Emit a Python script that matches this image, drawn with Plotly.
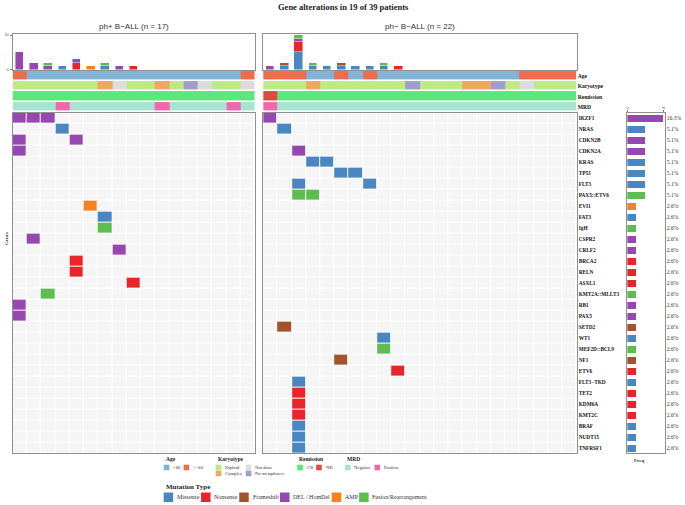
import plotly.graph_objects as go

W, H = 685, 505

# genes in display order (top to bottom)
genes = ["IKZF1", "NRAS", "CDKN2B", "CDKN2A", "KRAS", "TP53", "FLT3", "PAX5::ETV6",
         "EVI1", "FAT3", "IgH", "CSPR2", "CRLF2", "BRCA2", "RELN", "ASXL1",
         "KMT2A::MLLT3", "RB1", "PAX5", "SETD2", "WT1", "MEF2D::BCL9", "NF1", "ETV6",
         "FLT3\u2212TKD", "TET2", "KDM6A", "KMT2C", "BRAF", "NUDT15", "TNFRSF1"]
n_total = 39

mut_types = ["Missense", "Nonsense", "Frameshift", "DEL / HomDel", "AMP", "Fusion/Rearrangement"]
mut_colors = ["#4a86c0", "#e8262a", "#a3532c", "#9747b0", "#f5821f", "#5dbd4f"]

# (gene, patient column, mutation type)
ph_pos_muts = [
    ("IKZF1", 0, "DEL / HomDel"), ("IKZF1", 1, "DEL / HomDel"), ("IKZF1", 2, "DEL / HomDel"),
    ("NRAS", 3, "Missense"),
    ("CDKN2B", 0, "DEL / HomDel"), ("CDKN2B", 4, "DEL / HomDel"),
    ("CDKN2A", 0, "DEL / HomDel"),
    ("EVI1", 5, "AMP"),
    ("FAT3", 6, "Missense"),
    ("IgH", 6, "Fusion/Rearrangement"),
    ("CSPR2", 1, "DEL / HomDel"),
    ("CRLF2", 7, "DEL / HomDel"),
    ("BRCA2", 4, "Nonsense"),
    ("RELN", 4, "Nonsense"),
    ("ASXL1", 8, "Nonsense"),
    ("KMT2A::MLLT3", 2, "Fusion/Rearrangement"),
    ("RB1", 0, "DEL / HomDel"),
    ("PAX5", 0, "DEL / HomDel"),
]
ph_neg_muts = [
    ("IKZF1", 0, "DEL / HomDel"),
    ("NRAS", 1, "Missense"),
    ("CDKN2A", 2, "DEL / HomDel"),
    ("KRAS", 3, "Missense"), ("KRAS", 4, "Missense"),
    ("TP53", 5, "Missense"), ("TP53", 6, "Missense"),
    ("FLT3", 2, "Missense"), ("FLT3", 7, "Missense"),
    ("PAX5::ETV6", 2, "Fusion/Rearrangement"), ("PAX5::ETV6", 3, "Fusion/Rearrangement"),
    ("SETD2", 1, "Frameshift"),
    ("WT1", 8, "Missense"),
    ("MEF2D::BCL9", 8, "Fusion/Rearrangement"),
    ("NF1", 5, "Frameshift"),
    ("ETV6", 9, "Nonsense"),
    ("FLT3\u2212TKD", 2, "Missense"),
    ("TET2", 2, "Nonsense"), ("KDM6A", 2, "Nonsense"), ("KMT2C", 2, "Nonsense"),
    ("BRAF", 2, "Missense"), ("NUDT15", 2, "Missense"), ("TNFRSF1", 2, "Missense"),
]

# clinical annotation tracks
ph_pos_age = [">=60", "<60", "<60", "<60", "<60", "<60", "<60", "<60", "<60",
              "<60", "<60", "<60", "<60", "<60", "<60", "<60", ">=60"]
ph_pos_karyo = ["Diploid", "Diploid", "Diploid", "Diploid", "Diploid", "Diploid", "Complex",
                "Not done", "Diploid", "Diploid", "Complex", "Diploid", "No metaphases",
                "Not done", "Diploid", "Diploid", "Not done"]
ph_pos_rem = ["CR", "CR", "CR", "CR", "CR", "CR", "CR", "CR", "CR",
              "CR", "CR", "CR", "CR", "CR", "CR", "CR", "CR"]
ph_pos_mrd = ["Negative", "Negative", "Negative", "Positive", "Negative", "Negative",
              "Negative", "Negative", "Negative", "Negative", "Positive", "Negative",
              "Negative", "Negative", "Negative", "Positive", "Negative"]

ph_neg_age = [">=60", ">=60", ">=60", "<60", "<60", ">=60", "<60", ">=60", "<60", "<60", "<60",
              "<60", "<60", "<60", "<60", "<60", "<60", "<60", ">=60", ">=60", ">=60", ">=60"]
ph_neg_karyo = ["Diploid", "Diploid", "Diploid", "Complex", "Diploid", "Diploid", "Diploid",
                "Diploid", "Diploid", "Diploid", "No metaphases", "Diploid", "Diploid",
                "Diploid", "Complex", "Complex", "No metaphases", "Diploid", "Not done",
                "Diploid", "Diploid", "Diploid"]
ph_neg_rem = ["NR", "CR", "CR", "CR", "CR", "CR", "CR", "CR", "CR", "CR", "CR",
              "CR", "CR", "CR", "CR", "CR", "CR", "CR", "CR", "CR", "CR", "CR"]
ph_neg_mrd = ["Positive", "Negative", "Negative", "Negative", "Negative", "Negative",
              "Negative", "Negative", "Negative", "Negative", "Negative", "Negative",
              "Negative", "Negative", "Negative", "Negative", "Negative", "Negative",
              "Negative", "Negative", "Negative", "Negative"]

annot_tracks = ["Age", "Karyotype", "Remission", "MRD"]
annot_levels = ["<60", ">=60", "Diploid", "Complex", "Not done", "No metaphases",
                "CR", "NR", "Negative", "Positive"]
annot_colors = ["#80b3d6", "#f06b47", "#bde986", "#eea864", "#dcdcdc", "#a09ccb",
                "#5ae87b", "#e64841", "#a7e4cf", "#f268ac"]

SERIF = "Liberation Serif"
SANS = "Liberation Sans"
FRAME = "#8f8f8f"


def dom_x(a, b):
    return [a / W, b / W]


def dom_y(top, bottom):
    return [1 - bottom / H, 1 - top / H]


def ax_id(i):
    return "" if i == 1 else str(i)


fig = go.Figure()
layout_axes = {}

panels = [
    dict(title="ph+ B\u2212ALL (n = 17)", muts=ph_pos_muts,
         tracks=[ph_pos_age, ph_pos_karyo, ph_pos_rem, ph_pos_mrd], x0=9.7, x1=253.3, ax=1),
    dict(title="ph\u2212 B\u2212ALL (n = 22)", muts=ph_neg_muts,
         tracks=[ph_neg_age, ph_neg_karyo, ph_neg_rem, ph_neg_mrd], x0=261.7, x1=577.0, ax=4),
]

grid_scale = [[i / 6, c] for i, c in enumerate(["#f5f5f5"] + mut_colors)]
annot_scale = [[i / 9, c] for i, c in enumerate(annot_colors)]

for p in panels:
    n = len(p["tracks"][0])
    g_id, b_id, a_id = ax_id(p["ax"]), ax_id(p["ax"] + 1), ax_id(p["ax"] + 2)
    right = p["ax"] == 4

    # oncoprint matrix
    z = [[0] * n for _ in genes]
    for g, col, t in p["muts"]:
        z[genes.index(g)][col] = mut_types.index(t) + 1
    fig.add_trace(go.Heatmap(
        z=z, x=list(range(n)), y=list(range(len(genes))),
        colorscale=grid_scale, zmin=0, zmax=6, showscale=False,
        xgap=1, ygap=1, hoverinfo="skip",
        xaxis="x" + g_id, yaxis="y" + g_id))

    # stacked counts per patient
    for k, t in enumerate(mut_types):
        counts = [0] * n
        for g, col, tt in p["muts"]:
            if tt == t:
                counts[col] += 1
        fig.add_trace(go.Bar(
            x=list(range(n)), y=counts, width=0.6, marker_color=mut_colors[k],
            marker_line=dict(color="rgba(255,255,255,0.55)", width=0.8),
            showlegend=False, hoverinfo="skip",
            xaxis="x" + b_id, yaxis="y" + b_id))

    # clinical tracks
    za = [[annot_levels.index(v) for v in tr] for tr in p["tracks"]]
    fig.add_trace(go.Heatmap(
        z=za, x=list(range(n)), y=list(range(4)),
        colorscale=annot_scale, zmin=0, zmax=9, showscale=False,
        xgap=0, ygap=1.6, hoverinfo="skip",
        xaxis="x" + a_id, yaxis="y" + a_id))

    xr = [-0.5, n - 0.5]
    dx = dom_x(p["x0"], p["x1"])
    frame = dict(showline=True, mirror=True, linecolor=FRAME, linewidth=1)
    layout_axes["xaxis" + g_id] = dict(domain=dx, range=xr, anchor="y" + g_id,
                                       showgrid=False, zeroline=False,
                                       showticklabels=False, ticks="", **frame)
    layout_axes["yaxis" + g_id] = dict(
        domain=dom_y(111.5, 455), range=[len(genes) - 0.5, -0.5], anchor="x" + g_id,
        showgrid=False, zeroline=False, ticks="",
        side="right" if right else "left",
        showticklabels=right, tickvals=list(range(len(genes))), ticktext=genes,
        tickfont=dict(family=SERIF, size=5.3, color="#111", weight="bold"), **frame)

    layout_axes["xaxis" + b_id] = dict(domain=dx, range=xr, anchor="y" + b_id,
                                       showgrid=False, zeroline=False,
                                       showticklabels=False, ticks="", **frame)
    layout_axes["yaxis" + b_id] = dict(
        domain=dom_y(32.3, 68.3), range=[0, 10.3], anchor="x" + b_id,
        showgrid=False, zeroline=False,
        tickvals=[0, 10], ticktext=["0", "10"], showticklabels=not right,
        ticks="" if right else "outside", ticklen=2, tickcolor="#777",
        tickfont=dict(family=SANS, size=4, color="#555"), **frame)

    layout_axes["xaxis" + a_id] = dict(domain=dx, range=xr, anchor="y" + a_id,
                                       visible=False)
    layout_axes["yaxis" + a_id] = dict(
        domain=dom_y(69.6, 110.8), range=[3.5, -0.5], anchor="x" + a_id,
        showgrid=False, zeroline=False, showline=False, ticks="",
        side="right", showticklabels=right, tickvals=[0, 1, 2, 3], ticktext=annot_tracks,
        tickfont=dict(family=SERIF, size=5.6, color="#111", weight="bold"))

    fig.add_annotation(text=p["title"], x=(p["x0"] + p["x1"]) / 2 / W, y=1 - 25 / H,
                       xref="paper", yref="paper", showarrow=False, yanchor="middle",
                       xanchor="center", font=dict(family=SANS, size=8, color="#333"))

# gene frequency bars
all_muts = ph_pos_muts + ph_neg_muts
gene_counts = [sum(1 for g, c, t in all_muts if g == gene) for gene in genes]
gene_color = [mut_colors[mut_types.index(next(t for g, c, t in all_muts if g == gene))]
              for gene in genes]
gene_pct = [f"{100 * c / n_total:.1f}%" for c in gene_counts]

fig.add_trace(go.Bar(
    x=gene_counts, y=list(range(len(genes))), orientation="h", width=0.62,
    marker_color=gene_color, marker_line_width=0, showlegend=False, hoverinfo="skip",
    xaxis="x7", yaxis="y7"))
layout_axes["xaxis7"] = dict(
    domain=dom_x(628, 665.5), range=[0, 4.1], anchor="y7", side="top",
    showgrid=False, zeroline=False, tickvals=[0, 4], ticks="outside", ticklen=2,
    tickangle=-90, tickcolor="#777", tickfont=dict(family=SANS, size=4, color="#555"),
    showline=True, mirror=True, linecolor=FRAME, linewidth=1)
layout_axes["yaxis7"] = dict(
    domain=dom_y(111.5, 455), range=[len(genes) - 0.5, -0.5], anchor="x7",
    showgrid=False, zeroline=False, side="right", ticks="",
    tickvals=list(range(len(genes))), ticktext=gene_pct,
    tickfont=dict(family=SERIF, size=5.6, color="#333"),
    showline=True, mirror=True, linecolor=FRAME, linewidth=1)

# legend swatches on a hidden pixel-space axis
small_groups = [
    ("Age", 161.7, [("&lt;60", "<60", 161.7, 469.2), ("&gt;=60", ">=60", 181.7, 469.2)]),
    ("Karyotype", 214.0, [("Diploid", "Diploid", 214.0, 469.2),
                          ("Complex", "Complex", 214.0, 475.2),
                          ("Not done", "Not done", 244.2, 469.2),
                          ("No metaphases", "No metaphases", 244.2, 475.2)]),
    ("Remission", 296.0, [("CR", "CR", 296.0, 469.2), ("NR", "NR", 315.0, 469.2)]),
    ("MRD", 344.0, [("Negative", "Negative", 344.0, 469.2),
                    ("Positive", "Positive", 373.7, 469.2)]),
]
sw_x, sw_y, sw_c, sw_s = [], [], [], []
for title, tx, items in small_groups:
    fig.add_annotation(text=f"<b>{title}</b>", x=tx / W, y=1 - 461 / H, xref="paper",
                       yref="paper", xanchor="left", yanchor="middle", showarrow=False,
                       font=dict(family=SERIF, size=5.5, color="#222"))
    for label, level, lx, ly in items:
        sw_x.append(lx + 2.8)
        sw_y.append(ly)
        sw_c.append(annot_colors[annot_levels.index(level)])
        sw_s.append(5.6)
        fig.add_annotation(text=label, x=(lx + 7.5) / W, y=1 - ly / H, xref="paper",
                           yref="paper", xanchor="left", yanchor="middle", showarrow=False,
                           font=dict(family=SERIF, size=4.7, color="#333"))

fig.add_annotation(text="<b>Mutation Type</b>", x=161.7 / W, y=1 - 489 / H, xref="paper",
                   yref="paper", xanchor="left", yanchor="middle", showarrow=False,
                   font=dict(family=SERIF, size=7, color="#222"))
mut_leg_x = [161.7, 199.3, 237.7, 278.7, 330.7, 358.3]
for k, t in enumerate(mut_types):
    sw_x.append(mut_leg_x[k] + 4.7)
    sw_y.append(499.2)
    sw_c.append(mut_colors[k])
    sw_s.append(9.5)
    fig.add_annotation(text=t, x=(mut_leg_x[k] + 11.3) / W, y=1 - 499.2 / H, xref="paper",
                       yref="paper", xanchor="left", yanchor="middle", showarrow=False,
                       font=dict(family=SERIF, size=6, color="#333"))

fig.add_trace(go.Scatter(
    x=sw_x, y=sw_y, mode="markers", hoverinfo="skip", showlegend=False,
    marker=dict(symbol="square", size=sw_s, color=sw_c, opacity=1, line_width=0),
    xaxis="x8", yaxis="y8"))
layout_axes["xaxis8"] = dict(domain=[0, 1], range=[0, W], visible=False, anchor="y8")
layout_axes["yaxis8"] = dict(domain=[0, 1], range=[H, 0], visible=False, anchor="x8")

# titles and side labels
fig.add_annotation(text="<b>Gene alterations in 19 of 39 patients</b>", x=342 / W,
                   y=1 - 5 / H, xref="paper", yref="paper", showarrow=False,
                   yanchor="middle", font=dict(family=SERIF, size=8.5, color="#222"))
fig.add_annotation(text="<b>Genes</b>", x=3 / W, y=1 - 238 / H, xref="paper",
                   yref="paper", showarrow=False, textangle=-90, xanchor="center",
                   borderpad=0, font=dict(family=SERIF, size=5, color="#333"))
fig.add_annotation(text="<b>Freq</b>", x=647 / W, y=1 - 462 / H, xref="paper",
                   yref="paper", showarrow=False, yanchor="middle",
                   font=dict(family=SERIF, size=5, color="#333"))

fig.update_layout(
    width=W, height=H,
    margin=dict(l=0, r=0, t=0, b=0),
    paper_bgcolor="white", plot_bgcolor="rgba(0,0,0,0)",
    barmode="stack", bargap=0,
    showlegend=False,
    **layout_axes,
)

fig.write_html("out.html", config={"displayModeBar": False},
               post_script="document.body.style.margin = '0px';")
